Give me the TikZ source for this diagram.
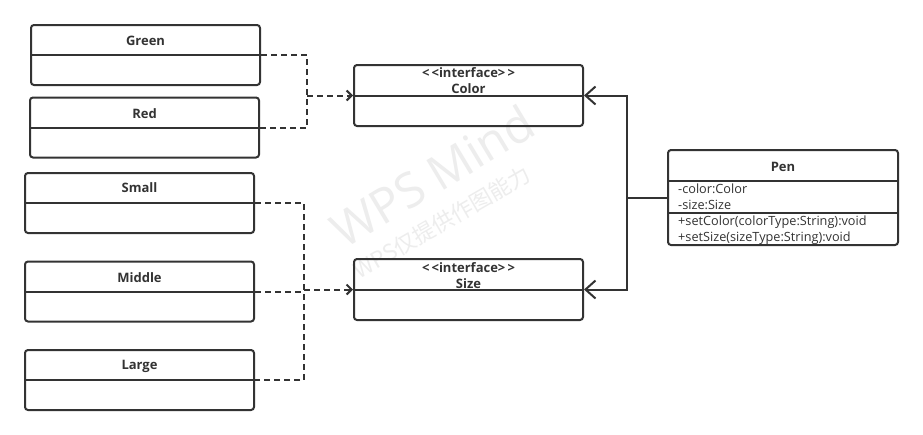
\documentclass[tikz,border=0pt]{standalone}
\usepackage{fontspec}
\setmainfont{Open Sans}
\newfontfamily\cjk{Noto Sans CJK SC}
\usetikzlibrary{arrows.meta,calc}
\definecolor{ln}{HTML}{333333}
\definecolor{wm}{HTML}{EDEDED}
\begin{document}
\begin{tikzpicture}[x=1pt,y=-1pt,
  cls/.style={draw=ln,line width=2pt,rounded corners=3pt,minimum width=229pt,minimum height=60pt,inner sep=0pt},
  ttl/.style={text=ln,font=\fontsize{13}{15}\selectfont\bfseries,inner sep=0pt},
  attr/.style={text=ln,font=\fontsize{12.7}{15}\selectfont,inner sep=0pt,anchor=west},
  sep/.style={draw=ln,line width=2pt},
  dsh/.style={draw=ln,line width=2pt,dash pattern=on 6pt off 4pt},
  sol/.style={draw=ln,line width=2pt},
  otip/.style={-{Straight Barb[length=5pt,width=10pt,line width=2pt]}},
  btip/.style={-{Straight Barb[length=10pt,width=18pt,line width=2pt]}}]
\useasboundingbox (0,0) rectangle (923,434);
\fill[white] (0,0) rectangle (923,434);
% watermark
\node[text=wm,rotate=31,font=\fontsize{48}{52}\selectfont] (wm1) at (432,176) {WPS Mind};
\node[text=wm,rotate=30,font=\cjk\fontsize{22}{26}\selectfont] (wm2) at (442,222) {WPS仅提供作图能力};
% classes
\node[cls] (g) at (145.5,55) {};
\node[ttl] (gt) at (145.5,41) {Green};
\draw[sep] (g.west) -- (g.east);
\node[cls] (r) at (144.5,127.5) {};
\node[ttl] (rt) at (144.5,114) {Red};
\draw[sep] (r.west) -- (r.east);
\node[cls] (s) at (139.5,203) {};
\node[ttl] (st) at (139.5,188) {Small};
\draw[sep] (s.west) -- (s.east);
\node[cls] (m) at (139.5,291.5) {};
\node[ttl] (mt) at (139.5,278) {Middle};
\draw[sep] (m.west) -- (m.east);
\node[cls] (l) at (139.5,380) {};
\node[ttl] (lt) at (139.5,366) {Large};
\draw[sep] (l.west) -- (l.east);
% interfaces
\node[cls,minimum height=61pt] (c) at (468.5,95.5) {};
\node[ttl] (ct1) at (468.5,73) {{<}\,{<}interface{>}\,{>}};
\node[ttl] (ct2) at (468.5,89) {Color};
\draw[sep] (c.west) -- (c.east);
\node[cls,minimum height=61pt] (z) at (468.5,289.5) {};
\node[ttl] (zt1) at (468.5,268) {{<}\,{<}interface{>}\,{>}};
\node[ttl] (zt2) at (468.5,284) {Size};
\draw[sep] (z.west) -- (z.east);
% Pen
\node[cls,minimum width=230pt,minimum height=95pt] (p) at (783,197.5) {};
\node[ttl] (pt) at (783,167) {Pen};
\draw[sep] (p.west |- 0,181) -- (p.east |- 0,181);
\draw[sep] (p.west |- 0,213) -- (p.east |- 0,213);
\node[attr] (a1) at (678,189) {-color:Color};
\node[attr] (a2) at (678,205) {-size:Size};
\node[attr] (o1) at (678,222) {+setColor(colorType:String):void};
\node[attr] (o2) at (678,238) {+setSize(sizeType:String):void};
% connectors: Color realizations
\coordinate (cv) at (307,0);
\draw[dsh] (g.east) -| (cv |- r.east) -- (r.east);
\draw[dsh,otip] (cv |- c.west) -- (c.west);
% Size realizations
\coordinate (sv) at (304,0);
\draw[dsh] (s.east) -| (sv |- l.east) -- (l.east);
\draw[dsh] (m.east) -- (sv |- m.east);
\draw[dsh,otip] (sv |- z.west) -- (z.west);
% Pen associations
\coordinate (pv) at (627,0);
\draw[sol] (p.west) -- (pv |- p.west);
\draw[sol,btip] (pv |- p.west) |- (c.east);
\draw[sol,btip] (pv |- p.west) |- (z.east);
\end{tikzpicture}
\end{document}
